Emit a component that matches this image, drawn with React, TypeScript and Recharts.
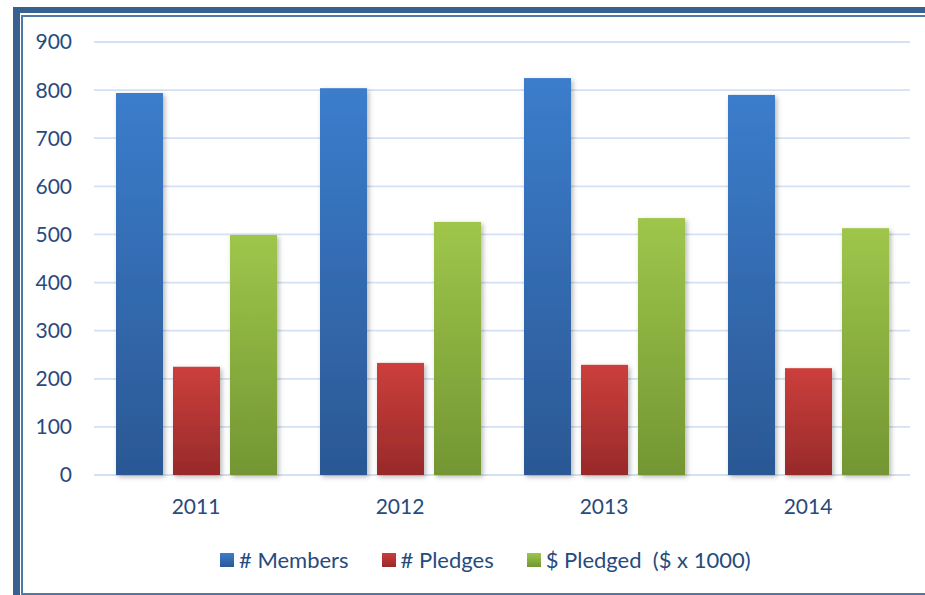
import { Bar, BarChart, CartesianGrid, XAxis, YAxis } from "recharts";

const years = ["2011", "2012", "2013", "2014"];
const members = [794, 804, 825, 790];
const pledges = [225, 233, 229, 222];
const pledged = [499, 526, 534, 513];
const yTicks = [0, 100, 200, 300, 400, 500, 600, 700, 800, 900];

const series = [
  { key: "members", name: "# Members", grad: "gBlue", top: "#3b7dcc", bottom: "#2b5894" },
  { key: "pledges", name: "# Pledges", grad: "gRed", top: "#cc3f3c", bottom: "#982a2a" },
  { key: "pledged", name: "$ Pledged  ($ x 1000)", grad: "gGreen", top: "#9fc64b", bottom: "#739633" },
];

const data = years.map((year, i) => ({
  year,
  members: members[i],
  pledges: pledges[i],
  pledged: pledged[i],
}));

const textColor = "#264b7e";
const font = "Lato, 'Open Sans', sans-serif";

function ShadowBar(props: any) {
  const { x, y, width, height, fill } = props;
  if (!height || height <= 0) return null;
  return <rect x={x} y={y} width={width} height={height} fill={fill} filter="url(#barShadow)" />;
}

// legend drawn outside the chart so it doesn't eat plot height
function ChartLegend() {
  return (
    <div
      style={{
        position: "absolute",
        left: 220,
        top: 546,
        display: "flex",
        alignItems: "center",
        fontFamily: font,
        fontSize: 22,
        lineHeight: "28px",
        color: textColor,
      }}
    >
      {series.map((s, i) => (
        <div key={s.key} style={{ display: "flex", alignItems: "center", marginRight: i < series.length - 1 ? 33 : 0 }}>
          <span
            style={{
              display: "inline-block",
              width: 14,
              height: 14,
              marginRight: 5,
              background: `linear-gradient(${s.top}, ${s.bottom})`,
            }}
          />
          <span style={{ whiteSpace: "pre" }}>{s.name}</span>
        </div>
      ))}
    </div>
  );
}

export default function App() {
  return (
    <div style={{ position: "absolute", left: 0, top: 0, width: 925, height: 595, overflow: "hidden", background: "#fff" }}>
      <div
        style={{
          position: "absolute",
          left: 13,
          top: 7,
          width: 1000,
          height: 700,
          borderLeft: "7px solid #37618f",
          borderTop: "6px solid #37618f",
        }}
      />
      <div
        style={{
          position: "absolute",
          left: 21,
          top: 15,
          width: 1000,
          height: 576,
          border: "2px solid #5079aa",
        }}
      />
      <div style={{ position: "absolute", left: 0, top: 0 }}>
        <BarChart
          width={925}
          height={595}
          data={data}
          margin={{ top: 42, right: 15, bottom: 0, left: 0 }}
          barGap={10}
          barCategoryGap={22}
        >
          <defs>
            {series.map((s) => (
              <linearGradient key={s.grad} id={s.grad} x1="0" y1="0" x2="0" y2="1">
                <stop offset="0%" stopColor={s.top} />
                <stop offset="100%" stopColor={s.bottom} />
              </linearGradient>
            ))}
            <filter id="barShadow" x="-20%" y="-5%" width="150%" height="115%">
              <feDropShadow dx="2" dy="2" stdDeviation="2.5" floodColor="#000" floodOpacity="0.28" />
            </filter>
          </defs>
          <CartesianGrid vertical={false} stroke="#d3e1f2" strokeWidth={1.8} />
          <XAxis
            dataKey="year"
            axisLine={false}
            tickLine={false}
            tickSize={0}
            tickMargin={24}
            height={120}
            tick={{ fill: textColor, fontSize: 21, fontFamily: font }}
          />
          <YAxis
            domain={[0, 900]}
            ticks={yTicks}
            width={94}
            axisLine={false}
            tickLine={false}
            tickSize={0}
            tickMargin={22}
            tick={{ fill: textColor, fontSize: 21, fontFamily: font }}
          />
          {series.map((s) => (
            <Bar
              key={s.key}
              dataKey={s.key}
              name={s.name}
              fill={`url(#${s.grad})`}
              shape={ShadowBar}
              isAnimationActive={false}
            />
          ))}
        </BarChart>
      </div>
      <ChartLegend />
    </div>
  );
}
